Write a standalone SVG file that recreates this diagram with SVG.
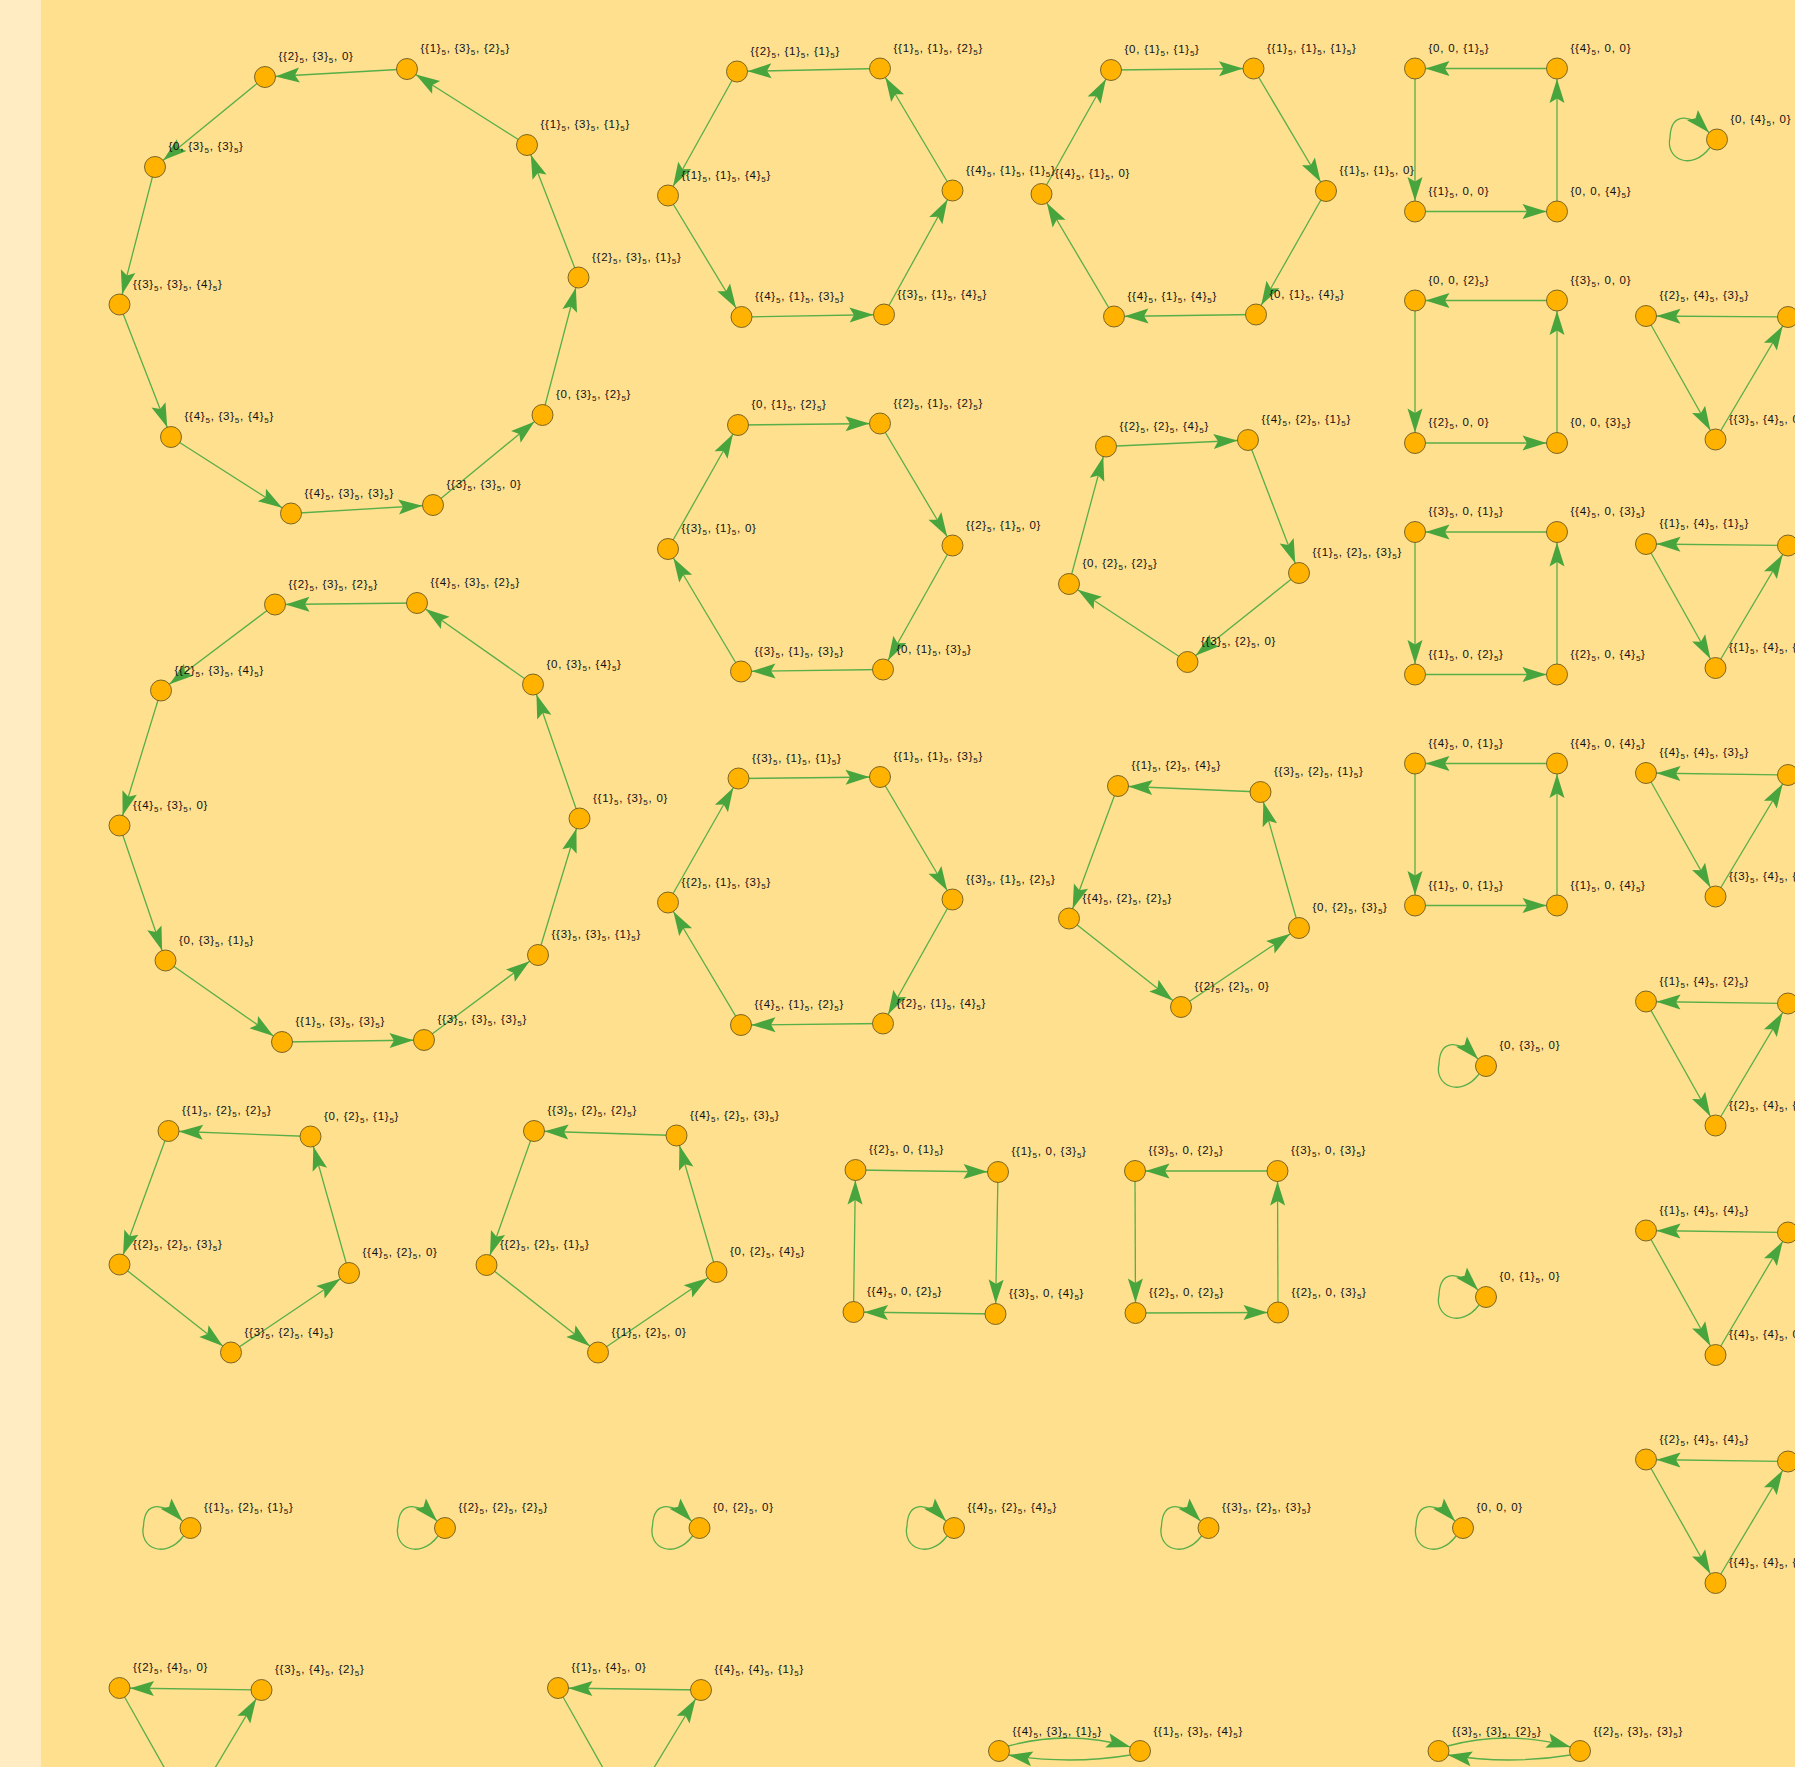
<svg xmlns="http://www.w3.org/2000/svg" width="1795" height="1767" viewBox="0 0 1795 1767">
<style>
.e{stroke:#58AE48;stroke-width:1.3;fill:none;marker-end:url(#ah)}
.c{stroke:#58AE48;stroke-width:1.3;fill:none;marker-end:url(#a0)}
.n{fill:#FFB300;stroke:#6E5A1E;stroke-width:0.9}
text{font-family:"Liberation Sans",Arial,sans-serif;font-size:11.5px;fill:#111;letter-spacing:0.75px}
.s{font-size:8px;baseline-shift:-3px}
</style>
<defs>
<marker id="ah" markerUnits="userSpaceOnUse" markerWidth="40" markerHeight="20" viewBox="-38 -10 40 20" refX="0" refY="0" orient="auto" overflow="visible"><path d="M-10.5,0 L-34.5,-7.5 L-30,0 L-34.5,7.5 Z" fill="#48A43D"/></marker>
<marker id="a0" markerUnits="userSpaceOnUse" markerWidth="30" markerHeight="20" viewBox="-28 -10 30 20" refX="0" refY="0" orient="auto" overflow="visible"><path d="M0,0 L-24,-7.5 L-19.5,0 L-24,7.5 Z" fill="#48A43D"/></marker>
</defs>
<rect x="0" y="0" width="1795" height="1767" fill="#FEE08F"/>
<rect x="0" y="0" width="41" height="1767" fill="#FFECC2"/>
<g id="edges">
<line class="e" x1="407" y1="69" x2="265" y2="77"/>
<line class="e" x1="265" y1="77" x2="155" y2="167"/>
<line class="e" x1="155" y1="167" x2="119.5" y2="304.5"/>
<line class="e" x1="119.5" y1="304.5" x2="171" y2="437"/>
<line class="e" x1="171" y1="437" x2="291" y2="513.5"/>
<line class="e" x1="291" y1="513.5" x2="433" y2="505"/>
<line class="e" x1="433" y1="505" x2="542.5" y2="415"/>
<line class="e" x1="542.5" y1="415" x2="578.5" y2="277.5"/>
<line class="e" x1="578.5" y1="277.5" x2="527" y2="145"/>
<line class="e" x1="527" y1="145" x2="407" y2="69"/>
<line class="e" x1="880" y1="68.5" x2="737" y2="71.5"/>
<line class="e" x1="737" y1="71.5" x2="668" y2="195.5"/>
<line class="e" x1="668" y1="195.5" x2="741.5" y2="317"/>
<line class="e" x1="741.5" y1="317" x2="884" y2="314.5"/>
<line class="e" x1="884" y1="314.5" x2="952.5" y2="190.5"/>
<line class="e" x1="952.5" y1="190.5" x2="880" y2="68.5"/>
<line class="e" x1="1041.5" y1="194" x2="1111" y2="70"/>
<line class="e" x1="1111" y1="70" x2="1253.5" y2="68.5"/>
<line class="e" x1="1253.5" y1="68.5" x2="1326" y2="191"/>
<line class="e" x1="1326" y1="191" x2="1256" y2="314.5"/>
<line class="e" x1="1256" y1="314.5" x2="1114" y2="316.5"/>
<line class="e" x1="1114" y1="316.5" x2="1041.5" y2="194"/>
<line class="e" x1="1557" y1="68.5" x2="1415" y2="68.5"/>
<line class="e" x1="1415" y1="68.5" x2="1415" y2="211.5"/>
<line class="e" x1="1415" y1="211.5" x2="1557" y2="211.5"/>
<line class="e" x1="1557" y1="211.5" x2="1557" y2="68.5"/>
<line class="e" x1="1557" y1="300.5" x2="1415" y2="300.5"/>
<line class="e" x1="1415" y1="300.5" x2="1415" y2="443"/>
<line class="e" x1="1415" y1="443" x2="1557" y2="443"/>
<line class="e" x1="1557" y1="443" x2="1557" y2="300.5"/>
<line class="e" x1="1788" y1="317" x2="1646" y2="316"/>
<line class="e" x1="1646" y1="316" x2="1715.5" y2="439.5"/>
<line class="e" x1="1715.5" y1="439.5" x2="1788" y2="317"/>
<line class="e" x1="668" y1="549" x2="738" y2="425"/>
<line class="e" x1="738" y1="425" x2="880" y2="423.5"/>
<line class="e" x1="880" y1="423.5" x2="952.5" y2="545.5"/>
<line class="e" x1="952.5" y1="545.5" x2="883" y2="669.5"/>
<line class="e" x1="883" y1="669.5" x2="741" y2="671.5"/>
<line class="e" x1="741" y1="671.5" x2="668" y2="549"/>
<line class="e" x1="1187.5" y1="662" x2="1069" y2="584"/>
<line class="e" x1="1069" y1="584" x2="1106" y2="446.5"/>
<line class="e" x1="1106" y1="446.5" x2="1248" y2="440"/>
<line class="e" x1="1248" y1="440" x2="1299" y2="573"/>
<line class="e" x1="1299" y1="573" x2="1187.5" y2="662"/>
<line class="e" x1="1557" y1="532" x2="1415" y2="532"/>
<line class="e" x1="1415" y1="532" x2="1415" y2="674.5"/>
<line class="e" x1="1415" y1="674.5" x2="1557" y2="674.5"/>
<line class="e" x1="1557" y1="674.5" x2="1557" y2="532"/>
<line class="e" x1="1788" y1="545.5" x2="1646" y2="544"/>
<line class="e" x1="1646" y1="544" x2="1715.5" y2="668"/>
<line class="e" x1="1715.5" y1="668" x2="1788" y2="545.5"/>
<line class="e" x1="417" y1="603" x2="275" y2="604.5"/>
<line class="e" x1="275" y1="604.5" x2="161" y2="690.5"/>
<line class="e" x1="161" y1="690.5" x2="119.5" y2="825.5"/>
<line class="e" x1="119.5" y1="825.5" x2="165.5" y2="960.5"/>
<line class="e" x1="165.5" y1="960.5" x2="282" y2="1042"/>
<line class="e" x1="282" y1="1042" x2="424" y2="1040"/>
<line class="e" x1="424" y1="1040" x2="538" y2="955"/>
<line class="e" x1="538" y1="955" x2="579.5" y2="818.5"/>
<line class="e" x1="579.5" y1="818.5" x2="533" y2="684.5"/>
<line class="e" x1="533" y1="684.5" x2="417" y2="603"/>
<line class="e" x1="668" y1="902.5" x2="738.5" y2="778.5"/>
<line class="e" x1="738.5" y1="778.5" x2="880" y2="777"/>
<line class="e" x1="880" y1="777" x2="952.5" y2="899.5"/>
<line class="e" x1="952.5" y1="899.5" x2="883" y2="1023.5"/>
<line class="e" x1="883" y1="1023.5" x2="741" y2="1025"/>
<line class="e" x1="741" y1="1025" x2="668" y2="902.5"/>
<line class="e" x1="1260.5" y1="792" x2="1118" y2="786"/>
<line class="e" x1="1118" y1="786" x2="1069" y2="918.5"/>
<line class="e" x1="1069" y1="918.5" x2="1181" y2="1007"/>
<line class="e" x1="1181" y1="1007" x2="1299" y2="928"/>
<line class="e" x1="1299" y1="928" x2="1260.5" y2="792"/>
<line class="e" x1="1557" y1="763.5" x2="1415" y2="763.5"/>
<line class="e" x1="1415" y1="763.5" x2="1415" y2="905.5"/>
<line class="e" x1="1415" y1="905.5" x2="1557" y2="905.5"/>
<line class="e" x1="1557" y1="905.5" x2="1557" y2="763.5"/>
<line class="e" x1="1788" y1="775" x2="1646" y2="773"/>
<line class="e" x1="1646" y1="773" x2="1715.5" y2="896.5"/>
<line class="e" x1="1715.5" y1="896.5" x2="1788" y2="775"/>
<line class="e" x1="1788" y1="1003.5" x2="1646" y2="1001.5"/>
<line class="e" x1="1646" y1="1001.5" x2="1715.5" y2="1125.5"/>
<line class="e" x1="1715.5" y1="1125.5" x2="1788" y2="1003.5"/>
<line class="e" x1="310.5" y1="1136.5" x2="168.5" y2="1131"/>
<line class="e" x1="168.5" y1="1131" x2="119.5" y2="1264.5"/>
<line class="e" x1="119.5" y1="1264.5" x2="231" y2="1352.5"/>
<line class="e" x1="231" y1="1352.5" x2="349" y2="1273"/>
<line class="e" x1="349" y1="1273" x2="310.5" y2="1136.5"/>
<line class="e" x1="676.5" y1="1135.5" x2="534" y2="1131"/>
<line class="e" x1="534" y1="1131" x2="486.5" y2="1265"/>
<line class="e" x1="486.5" y1="1265" x2="598" y2="1352.5"/>
<line class="e" x1="598" y1="1352.5" x2="716.5" y2="1272"/>
<line class="e" x1="716.5" y1="1272" x2="676.5" y2="1135.5"/>
<line class="e" x1="855.5" y1="1170" x2="998" y2="1172"/>
<line class="e" x1="998" y1="1172" x2="995.5" y2="1314"/>
<line class="e" x1="995.5" y1="1314" x2="853.5" y2="1312"/>
<line class="e" x1="853.5" y1="1312" x2="855.5" y2="1170"/>
<line class="e" x1="1277.5" y1="1171" x2="1135" y2="1171"/>
<line class="e" x1="1135" y1="1171" x2="1135.5" y2="1313"/>
<line class="e" x1="1135.5" y1="1313" x2="1278" y2="1312.5"/>
<line class="e" x1="1278" y1="1312.5" x2="1277.5" y2="1171"/>
<line class="e" x1="1788" y1="1232.5" x2="1646" y2="1230.5"/>
<line class="e" x1="1646" y1="1230.5" x2="1715.5" y2="1355"/>
<line class="e" x1="1715.5" y1="1355" x2="1788" y2="1232.5"/>
<line class="e" x1="1788" y1="1461.5" x2="1646" y2="1459.5"/>
<line class="e" x1="1646" y1="1459.5" x2="1715.5" y2="1583"/>
<line class="e" x1="1715.5" y1="1583" x2="1788" y2="1461.5"/>
<line class="e" x1="261.5" y1="1690" x2="119.5" y2="1688"/>
<line class="e" x1="119.5" y1="1688" x2="189" y2="1811.5"/>
<line class="e" x1="189" y1="1811.5" x2="261.5" y2="1690"/>
<line class="e" x1="701" y1="1690" x2="558" y2="1688"/>
<line class="e" x1="558" y1="1688" x2="627.5" y2="1811.5"/>
<line class="e" x1="627.5" y1="1811.5" x2="701" y2="1690"/>
<path class="c" d="M1710,147.5 C1692,171.5 1665,159.5 1670,137.5 C1671,111.5 1691,113.5 1709,132.5"/>
<path class="c" d="M1479,1074 C1461,1098 1434,1086 1439,1064 C1440,1038 1460,1040 1478,1059"/>
<path class="c" d="M1479,1305 C1461,1329 1434,1317 1439,1295 C1440,1269 1460,1271 1478,1290"/>
<path class="c" d="M183.5,1536 C165.5,1560 138.5,1548 143.5,1526 C144.5,1500 164.5,1502 182.5,1521"/>
<path class="c" d="M438,1536 C420,1560 393,1548 398,1526 C399,1500 419,1502 437,1521"/>
<path class="c" d="M692.5,1536 C674.5,1560 647.5,1548 652.5,1526 C653.5,1500 673.5,1502 691.5,1521"/>
<path class="c" d="M947,1536 C929,1560 902,1548 907,1526 C908,1500 928,1502 946,1521"/>
<path class="c" d="M1201.5,1536 C1183.5,1560 1156.5,1548 1161.5,1526 C1162.5,1500 1182.5,1502 1200.5,1521"/>
<path class="c" d="M1456,1536 C1438,1560 1411,1548 1416,1526 C1417,1500 1437,1502 1455,1521"/>
<path class="c" d="M1008,1746 Q1069.5,1729.5 1130.5,1747"/>
<path class="c" d="M1130.5,1755 Q1069.5,1765 1008.5,1755"/>
<path class="c" d="M1447.5,1746 Q1509,1729.5 1570.5,1747"/>
<path class="c" d="M1570.5,1755 Q1509,1765 1448,1755"/>
</g>
<g id="nodes">
<g id="n230"><circle class="n" cx="265" cy="77" r="10.5"/><text x="278.5" y="60">{{2}<tspan class="s">5</tspan>, {3}<tspan class="s">5</tspan>, 0}</text></g>
<g id="n132"><circle class="n" cx="407" cy="69" r="10.5"/><text x="420.5" y="52">{{1}<tspan class="s">5</tspan>, {3}<tspan class="s">5</tspan>, {2}<tspan class="s">5</tspan>}</text></g>
<g id="n131"><circle class="n" cx="527" cy="145" r="10.5"/><text x="540.5" y="128">{{1}<tspan class="s">5</tspan>, {3}<tspan class="s">5</tspan>, {1}<tspan class="s">5</tspan>}</text></g>
<g id="n231"><circle class="n" cx="578.5" cy="277.5" r="10.5"/><text x="592" y="260.5">{{2}<tspan class="s">5</tspan>, {3}<tspan class="s">5</tspan>, {1}<tspan class="s">5</tspan>}</text></g>
<g id="n032"><circle class="n" cx="542.5" cy="415" r="10.5"/><text x="556" y="398">{0, {3}<tspan class="s">5</tspan>, {2}<tspan class="s">5</tspan>}</text></g>
<g id="n330"><circle class="n" cx="433" cy="505" r="10.5"/><text x="446.5" y="488">{{3}<tspan class="s">5</tspan>, {3}<tspan class="s">5</tspan>, 0}</text></g>
<g id="n433"><circle class="n" cx="291" cy="513.5" r="10.5"/><text x="304.5" y="496.5">{{4}<tspan class="s">5</tspan>, {3}<tspan class="s">5</tspan>, {3}<tspan class="s">5</tspan>}</text></g>
<g id="n434"><circle class="n" cx="171" cy="437" r="10.5"/><text x="184.5" y="420">{{4}<tspan class="s">5</tspan>, {3}<tspan class="s">5</tspan>, {4}<tspan class="s">5</tspan>}</text></g>
<g id="n334"><circle class="n" cx="119.5" cy="304.5" r="10.5"/><text x="133" y="287.5">{{3}<tspan class="s">5</tspan>, {3}<tspan class="s">5</tspan>, {4}<tspan class="s">5</tspan>}</text></g>
<g id="n033"><circle class="n" cx="155" cy="167" r="10.5"/><text x="168.5" y="150">{0, {3}<tspan class="s">5</tspan>, {3}<tspan class="s">5</tspan>}</text></g>
<g id="n211"><circle class="n" cx="737" cy="71.5" r="10.5"/><text x="750.5" y="54.5">{{2}<tspan class="s">5</tspan>, {1}<tspan class="s">5</tspan>, {1}<tspan class="s">5</tspan>}</text></g>
<g id="n112"><circle class="n" cx="880" cy="68.5" r="10.5"/><text x="893.5" y="51.5">{{1}<tspan class="s">5</tspan>, {1}<tspan class="s">5</tspan>, {2}<tspan class="s">5</tspan>}</text></g>
<g id="n411"><circle class="n" cx="952.5" cy="190.5" r="10.5"/><text x="966" y="173.5">{{4}<tspan class="s">5</tspan>, {1}<tspan class="s">5</tspan>, {1}<tspan class="s">5</tspan>}</text></g>
<g id="n314"><circle class="n" cx="884" cy="314.5" r="10.5"/><text x="897.5" y="297.5">{{3}<tspan class="s">5</tspan>, {1}<tspan class="s">5</tspan>, {4}<tspan class="s">5</tspan>}</text></g>
<g id="n413"><circle class="n" cx="741.5" cy="317" r="10.5"/><text x="755" y="300">{{4}<tspan class="s">5</tspan>, {1}<tspan class="s">5</tspan>, {3}<tspan class="s">5</tspan>}</text></g>
<g id="n114"><circle class="n" cx="668" cy="195.5" r="10.5"/><text x="681.5" y="178.5">{{1}<tspan class="s">5</tspan>, {1}<tspan class="s">5</tspan>, {4}<tspan class="s">5</tspan>}</text></g>
<g id="n410"><circle class="n" cx="1041.5" cy="194" r="10.5"/><text x="1055" y="177">{{4}<tspan class="s">5</tspan>, {1}<tspan class="s">5</tspan>, 0}</text></g>
<g id="n011"><circle class="n" cx="1111" cy="70" r="10.5"/><text x="1124.5" y="53">{0, {1}<tspan class="s">5</tspan>, {1}<tspan class="s">5</tspan>}</text></g>
<g id="n111"><circle class="n" cx="1253.5" cy="68.5" r="10.5"/><text x="1267" y="51.5">{{1}<tspan class="s">5</tspan>, {1}<tspan class="s">5</tspan>, {1}<tspan class="s">5</tspan>}</text></g>
<g id="n110"><circle class="n" cx="1326" cy="191" r="10.5"/><text x="1339.5" y="174">{{1}<tspan class="s">5</tspan>, {1}<tspan class="s">5</tspan>, 0}</text></g>
<g id="n014"><circle class="n" cx="1256" cy="314.5" r="10.5"/><text x="1269.5" y="297.5">{0, {1}<tspan class="s">5</tspan>, {4}<tspan class="s">5</tspan>}</text></g>
<g id="n414"><circle class="n" cx="1114" cy="316.5" r="10.5"/><text x="1127.5" y="299.5">{{4}<tspan class="s">5</tspan>, {1}<tspan class="s">5</tspan>, {4}<tspan class="s">5</tspan>}</text></g>
<g id="n001"><circle class="n" cx="1415" cy="68.5" r="10.5"/><text x="1428.5" y="51.5">{0, 0, {1}<tspan class="s">5</tspan>}</text></g>
<g id="n400"><circle class="n" cx="1557" cy="68.5" r="10.5"/><text x="1570.5" y="51.5">{{4}<tspan class="s">5</tspan>, 0, 0}</text></g>
<g id="n100"><circle class="n" cx="1415" cy="211.5" r="10.5"/><text x="1428.5" y="194.5">{{1}<tspan class="s">5</tspan>, 0, 0}</text></g>
<g id="n004"><circle class="n" cx="1557" cy="211.5" r="10.5"/><text x="1570.5" y="194.5">{0, 0, {4}<tspan class="s">5</tspan>}</text></g>
<g id="n040"><circle class="n" cx="1717" cy="139.5" r="10.5"/><text x="1730.5" y="122.5">{0, {4}<tspan class="s">5</tspan>, 0}</text></g>
<g id="n002"><circle class="n" cx="1415" cy="300.5" r="10.5"/><text x="1428.5" y="283.5">{0, 0, {2}<tspan class="s">5</tspan>}</text></g>
<g id="n300"><circle class="n" cx="1557" cy="300.5" r="10.5"/><text x="1570.5" y="283.5">{{3}<tspan class="s">5</tspan>, 0, 0}</text></g>
<g id="n200"><circle class="n" cx="1415" cy="443" r="10.5"/><text x="1428.5" y="426">{{2}<tspan class="s">5</tspan>, 0, 0}</text></g>
<g id="n003"><circle class="n" cx="1557" cy="443" r="10.5"/><text x="1570.5" y="426">{0, 0, {3}<tspan class="s">5</tspan>}</text></g>
<g id="n243"><circle class="n" cx="1646" cy="316" r="10.5"/><text x="1659.5" y="299">{{2}<tspan class="s">5</tspan>, {4}<tspan class="s">5</tspan>, {3}<tspan class="s">5</tspan>}</text></g>
<g id="n042"><circle class="n" cx="1788" cy="317" r="10.5"/></g>
<g id="n340"><circle class="n" cx="1715.5" cy="439.5" r="10.5"/><text x="1729" y="422.5">{{3}<tspan class="s">5</tspan>, {4}<tspan class="s">5</tspan>, 0}</text></g>
<g id="n012"><circle class="n" cx="738" cy="425" r="10.5"/><text x="751.5" y="408">{0, {1}<tspan class="s">5</tspan>, {2}<tspan class="s">5</tspan>}</text></g>
<g id="n212"><circle class="n" cx="880" cy="423.5" r="10.5"/><text x="893.5" y="406.5">{{2}<tspan class="s">5</tspan>, {1}<tspan class="s">5</tspan>, {2}<tspan class="s">5</tspan>}</text></g>
<g id="n210"><circle class="n" cx="952.5" cy="545.5" r="10.5"/><text x="966" y="528.5">{{2}<tspan class="s">5</tspan>, {1}<tspan class="s">5</tspan>, 0}</text></g>
<g id="n013"><circle class="n" cx="883" cy="669.5" r="10.5"/><text x="896.5" y="652.5">{0, {1}<tspan class="s">5</tspan>, {3}<tspan class="s">5</tspan>}</text></g>
<g id="n313"><circle class="n" cx="741" cy="671.5" r="10.5"/><text x="754.5" y="654.5">{{3}<tspan class="s">5</tspan>, {1}<tspan class="s">5</tspan>, {3}<tspan class="s">5</tspan>}</text></g>
<g id="n310"><circle class="n" cx="668" cy="549" r="10.5"/><text x="681.5" y="532">{{3}<tspan class="s">5</tspan>, {1}<tspan class="s">5</tspan>, 0}</text></g>
<g id="n224"><circle class="n" cx="1106" cy="446.5" r="10.5"/><text x="1119.5" y="429.5">{{2}<tspan class="s">5</tspan>, {2}<tspan class="s">5</tspan>, {4}<tspan class="s">5</tspan>}</text></g>
<g id="n421"><circle class="n" cx="1248" cy="440" r="10.5"/><text x="1261.5" y="423">{{4}<tspan class="s">5</tspan>, {2}<tspan class="s">5</tspan>, {1}<tspan class="s">5</tspan>}</text></g>
<g id="n123"><circle class="n" cx="1299" cy="573" r="10.5"/><text x="1312.5" y="556">{{1}<tspan class="s">5</tspan>, {2}<tspan class="s">5</tspan>, {3}<tspan class="s">5</tspan>}</text></g>
<g id="n320"><circle class="n" cx="1187.5" cy="662" r="10.5"/><text x="1201" y="645">{{3}<tspan class="s">5</tspan>, {2}<tspan class="s">5</tspan>, 0}</text></g>
<g id="n022"><circle class="n" cx="1069" cy="584" r="10.5"/><text x="1082.5" y="567">{0, {2}<tspan class="s">5</tspan>, {2}<tspan class="s">5</tspan>}</text></g>
<g id="n301"><circle class="n" cx="1415" cy="532" r="10.5"/><text x="1428.5" y="515">{{3}<tspan class="s">5</tspan>, 0, {1}<tspan class="s">5</tspan>}</text></g>
<g id="n403"><circle class="n" cx="1557" cy="532" r="10.5"/><text x="1570.5" y="515">{{4}<tspan class="s">5</tspan>, 0, {3}<tspan class="s">5</tspan>}</text></g>
<g id="n102"><circle class="n" cx="1415" cy="674.5" r="10.5"/><text x="1428.5" y="657.5">{{1}<tspan class="s">5</tspan>, 0, {2}<tspan class="s">5</tspan>}</text></g>
<g id="n204"><circle class="n" cx="1557" cy="674.5" r="10.5"/><text x="1570.5" y="657.5">{{2}<tspan class="s">5</tspan>, 0, {4}<tspan class="s">5</tspan>}</text></g>
<g id="n141"><circle class="n" cx="1646" cy="544" r="10.5"/><text x="1659.5" y="527">{{1}<tspan class="s">5</tspan>, {4}<tspan class="s">5</tspan>, {1}<tspan class="s">5</tspan>}</text></g>
<g id="n341"><circle class="n" cx="1788" cy="545.5" r="10.5"/></g>
<g id="n143"><circle class="n" cx="1715.5" cy="668" r="10.5"/><text x="1729" y="651">{{1}<tspan class="s">5</tspan>, {4}<tspan class="s">5</tspan>, {3}<tspan class="s">5</tspan>}</text></g>
<g id="n232"><circle class="n" cx="275" cy="604.5" r="10.5"/><text x="288.5" y="587.5">{{2}<tspan class="s">5</tspan>, {3}<tspan class="s">5</tspan>, {2}<tspan class="s">5</tspan>}</text></g>
<g id="n432"><circle class="n" cx="417" cy="603" r="10.5"/><text x="430.5" y="586">{{4}<tspan class="s">5</tspan>, {3}<tspan class="s">5</tspan>, {2}<tspan class="s">5</tspan>}</text></g>
<g id="n034"><circle class="n" cx="533" cy="684.5" r="10.5"/><text x="546.5" y="667.5">{0, {3}<tspan class="s">5</tspan>, {4}<tspan class="s">5</tspan>}</text></g>
<g id="n130"><circle class="n" cx="579.5" cy="818.5" r="10.5"/><text x="593" y="801.5">{{1}<tspan class="s">5</tspan>, {3}<tspan class="s">5</tspan>, 0}</text></g>
<g id="n331"><circle class="n" cx="538" cy="955" r="10.5"/><text x="551.5" y="938">{{3}<tspan class="s">5</tspan>, {3}<tspan class="s">5</tspan>, {1}<tspan class="s">5</tspan>}</text></g>
<g id="n333"><circle class="n" cx="424" cy="1040" r="10.5"/><text x="437.5" y="1023">{{3}<tspan class="s">5</tspan>, {3}<tspan class="s">5</tspan>, {3}<tspan class="s">5</tspan>}</text></g>
<g id="n133"><circle class="n" cx="282" cy="1042" r="10.5"/><text x="295.5" y="1025">{{1}<tspan class="s">5</tspan>, {3}<tspan class="s">5</tspan>, {3}<tspan class="s">5</tspan>}</text></g>
<g id="n031"><circle class="n" cx="165.5" cy="960.5" r="10.5"/><text x="179" y="943.5">{0, {3}<tspan class="s">5</tspan>, {1}<tspan class="s">5</tspan>}</text></g>
<g id="n430"><circle class="n" cx="119.5" cy="825.5" r="10.5"/><text x="133" y="808.5">{{4}<tspan class="s">5</tspan>, {3}<tspan class="s">5</tspan>, 0}</text></g>
<g id="n234"><circle class="n" cx="161" cy="690.5" r="10.5"/><text x="174.5" y="673.5">{{2}<tspan class="s">5</tspan>, {3}<tspan class="s">5</tspan>, {4}<tspan class="s">5</tspan>}</text></g>
<g id="n311"><circle class="n" cx="738.5" cy="778.5" r="10.5"/><text x="752" y="761.5">{{3}<tspan class="s">5</tspan>, {1}<tspan class="s">5</tspan>, {1}<tspan class="s">5</tspan>}</text></g>
<g id="n113"><circle class="n" cx="880" cy="777" r="10.5"/><text x="893.5" y="760">{{1}<tspan class="s">5</tspan>, {1}<tspan class="s">5</tspan>, {3}<tspan class="s">5</tspan>}</text></g>
<g id="n312"><circle class="n" cx="952.5" cy="899.5" r="10.5"/><text x="966" y="882.5">{{3}<tspan class="s">5</tspan>, {1}<tspan class="s">5</tspan>, {2}<tspan class="s">5</tspan>}</text></g>
<g id="n214"><circle class="n" cx="883" cy="1023.5" r="10.5"/><text x="896.5" y="1006.5">{{2}<tspan class="s">5</tspan>, {1}<tspan class="s">5</tspan>, {4}<tspan class="s">5</tspan>}</text></g>
<g id="n412"><circle class="n" cx="741" cy="1025" r="10.5"/><text x="754.5" y="1008">{{4}<tspan class="s">5</tspan>, {1}<tspan class="s">5</tspan>, {2}<tspan class="s">5</tspan>}</text></g>
<g id="n213"><circle class="n" cx="668" cy="902.5" r="10.5"/><text x="681.5" y="885.5">{{2}<tspan class="s">5</tspan>, {1}<tspan class="s">5</tspan>, {3}<tspan class="s">5</tspan>}</text></g>
<g id="n124"><circle class="n" cx="1118" cy="786" r="10.5"/><text x="1131.5" y="769">{{1}<tspan class="s">5</tspan>, {2}<tspan class="s">5</tspan>, {4}<tspan class="s">5</tspan>}</text></g>
<g id="n321"><circle class="n" cx="1260.5" cy="792" r="10.5"/><text x="1274" y="775">{{3}<tspan class="s">5</tspan>, {2}<tspan class="s">5</tspan>, {1}<tspan class="s">5</tspan>}</text></g>
<g id="n023"><circle class="n" cx="1299" cy="928" r="10.5"/><text x="1312.5" y="911">{0, {2}<tspan class="s">5</tspan>, {3}<tspan class="s">5</tspan>}</text></g>
<g id="n220"><circle class="n" cx="1181" cy="1007" r="10.5"/><text x="1194.5" y="990">{{2}<tspan class="s">5</tspan>, {2}<tspan class="s">5</tspan>, 0}</text></g>
<g id="n422"><circle class="n" cx="1069" cy="918.5" r="10.5"/><text x="1082.5" y="901.5">{{4}<tspan class="s">5</tspan>, {2}<tspan class="s">5</tspan>, {2}<tspan class="s">5</tspan>}</text></g>
<g id="n401"><circle class="n" cx="1415" cy="763.5" r="10.5"/><text x="1428.5" y="746.5">{{4}<tspan class="s">5</tspan>, 0, {1}<tspan class="s">5</tspan>}</text></g>
<g id="n404"><circle class="n" cx="1557" cy="763.5" r="10.5"/><text x="1570.5" y="746.5">{{4}<tspan class="s">5</tspan>, 0, {4}<tspan class="s">5</tspan>}</text></g>
<g id="n101"><circle class="n" cx="1415" cy="905.5" r="10.5"/><text x="1428.5" y="888.5">{{1}<tspan class="s">5</tspan>, 0, {1}<tspan class="s">5</tspan>}</text></g>
<g id="n104"><circle class="n" cx="1557" cy="905.5" r="10.5"/><text x="1570.5" y="888.5">{{1}<tspan class="s">5</tspan>, 0, {4}<tspan class="s">5</tspan>}</text></g>
<g id="n443"><circle class="n" cx="1646" cy="773" r="10.5"/><text x="1659.5" y="756">{{4}<tspan class="s">5</tspan>, {4}<tspan class="s">5</tspan>, {3}<tspan class="s">5</tspan>}</text></g>
<g id="n344"><circle class="n" cx="1788" cy="775" r="10.5"/></g>
<g id="n343"><circle class="n" cx="1715.5" cy="896.5" r="10.5"/><text x="1729" y="879.5">{{3}<tspan class="s">5</tspan>, {4}<tspan class="s">5</tspan>, {3}<tspan class="s">5</tspan>}</text></g>
<g id="n142"><circle class="n" cx="1646" cy="1001.5" r="10.5"/><text x="1659.5" y="984.5">{{1}<tspan class="s">5</tspan>, {4}<tspan class="s">5</tspan>, {2}<tspan class="s">5</tspan>}</text></g>
<g id="n241"><circle class="n" cx="1788" cy="1003.5" r="10.5"/></g>
<g id="n242"><circle class="n" cx="1715.5" cy="1125.5" r="10.5"/><text x="1729" y="1108.5">{{2}<tspan class="s">5</tspan>, {4}<tspan class="s">5</tspan>, {2}<tspan class="s">5</tspan>}</text></g>
<g id="n030"><circle class="n" cx="1486" cy="1066" r="10.5"/><text x="1499.5" y="1049">{0, {3}<tspan class="s">5</tspan>, 0}</text></g>
<g id="n122"><circle class="n" cx="168.5" cy="1131" r="10.5"/><text x="182" y="1114">{{1}<tspan class="s">5</tspan>, {2}<tspan class="s">5</tspan>, {2}<tspan class="s">5</tspan>}</text></g>
<g id="n021"><circle class="n" cx="310.5" cy="1136.5" r="10.5"/><text x="324" y="1119.5">{0, {2}<tspan class="s">5</tspan>, {1}<tspan class="s">5</tspan>}</text></g>
<g id="n420"><circle class="n" cx="349" cy="1273" r="10.5"/><text x="362.5" y="1256">{{4}<tspan class="s">5</tspan>, {2}<tspan class="s">5</tspan>, 0}</text></g>
<g id="n324"><circle class="n" cx="231" cy="1352.5" r="10.5"/><text x="244.5" y="1335.5">{{3}<tspan class="s">5</tspan>, {2}<tspan class="s">5</tspan>, {4}<tspan class="s">5</tspan>}</text></g>
<g id="n223"><circle class="n" cx="119.5" cy="1264.5" r="10.5"/><text x="133" y="1247.5">{{2}<tspan class="s">5</tspan>, {2}<tspan class="s">5</tspan>, {3}<tspan class="s">5</tspan>}</text></g>
<g id="n322"><circle class="n" cx="534" cy="1131" r="10.5"/><text x="547.5" y="1114">{{3}<tspan class="s">5</tspan>, {2}<tspan class="s">5</tspan>, {2}<tspan class="s">5</tspan>}</text></g>
<g id="n423"><circle class="n" cx="676.5" cy="1135.5" r="10.5"/><text x="690" y="1118.5">{{4}<tspan class="s">5</tspan>, {2}<tspan class="s">5</tspan>, {3}<tspan class="s">5</tspan>}</text></g>
<g id="n024"><circle class="n" cx="716.5" cy="1272" r="10.5"/><text x="730" y="1255">{0, {2}<tspan class="s">5</tspan>, {4}<tspan class="s">5</tspan>}</text></g>
<g id="n120"><circle class="n" cx="598" cy="1352.5" r="10.5"/><text x="611.5" y="1335.5">{{1}<tspan class="s">5</tspan>, {2}<tspan class="s">5</tspan>, 0}</text></g>
<g id="n221"><circle class="n" cx="486.5" cy="1265" r="10.5"/><text x="500" y="1248">{{2}<tspan class="s">5</tspan>, {2}<tspan class="s">5</tspan>, {1}<tspan class="s">5</tspan>}</text></g>
<g id="n201"><circle class="n" cx="855.5" cy="1170" r="10.5"/><text x="869" y="1153">{{2}<tspan class="s">5</tspan>, 0, {1}<tspan class="s">5</tspan>}</text></g>
<g id="n103"><circle class="n" cx="998" cy="1172" r="10.5"/><text x="1011.5" y="1155">{{1}<tspan class="s">5</tspan>, 0, {3}<tspan class="s">5</tspan>}</text></g>
<g id="n304"><circle class="n" cx="995.5" cy="1314" r="10.5"/><text x="1009" y="1297">{{3}<tspan class="s">5</tspan>, 0, {4}<tspan class="s">5</tspan>}</text></g>
<g id="n402"><circle class="n" cx="853.5" cy="1312" r="10.5"/><text x="867" y="1295">{{4}<tspan class="s">5</tspan>, 0, {2}<tspan class="s">5</tspan>}</text></g>
<g id="n302"><circle class="n" cx="1135" cy="1171" r="10.5"/><text x="1148.5" y="1154">{{3}<tspan class="s">5</tspan>, 0, {2}<tspan class="s">5</tspan>}</text></g>
<g id="n303"><circle class="n" cx="1277.5" cy="1171" r="10.5"/><text x="1291" y="1154">{{3}<tspan class="s">5</tspan>, 0, {3}<tspan class="s">5</tspan>}</text></g>
<g id="n202"><circle class="n" cx="1135.5" cy="1313" r="10.5"/><text x="1149" y="1296">{{2}<tspan class="s">5</tspan>, 0, {2}<tspan class="s">5</tspan>}</text></g>
<g id="n203"><circle class="n" cx="1278" cy="1312.5" r="10.5"/><text x="1291.5" y="1295.5">{{2}<tspan class="s">5</tspan>, 0, {3}<tspan class="s">5</tspan>}</text></g>
<g id="n010"><circle class="n" cx="1486" cy="1297" r="10.5"/><text x="1499.5" y="1280">{0, {1}<tspan class="s">5</tspan>, 0}</text></g>
<g id="n144"><circle class="n" cx="1646" cy="1230.5" r="10.5"/><text x="1659.5" y="1213.5">{{1}<tspan class="s">5</tspan>, {4}<tspan class="s">5</tspan>, {4}<tspan class="s">5</tspan>}</text></g>
<g id="n041"><circle class="n" cx="1788" cy="1232.5" r="10.5"/></g>
<g id="n440"><circle class="n" cx="1715.5" cy="1355" r="10.5"/><text x="1729" y="1338">{{4}<tspan class="s">5</tspan>, {4}<tspan class="s">5</tspan>, 0}</text></g>
<g id="n244"><circle class="n" cx="1646" cy="1459.5" r="10.5"/><text x="1659.5" y="1442.5">{{2}<tspan class="s">5</tspan>, {4}<tspan class="s">5</tspan>, {4}<tspan class="s">5</tspan>}</text></g>
<g id="n442"><circle class="n" cx="1788" cy="1461.5" r="10.5"/></g>
<g id="n444"><circle class="n" cx="1715.5" cy="1583" r="10.5"/><text x="1729" y="1566">{{4}<tspan class="s">5</tspan>, {4}<tspan class="s">5</tspan>, {4}<tspan class="s">5</tspan>}</text></g>
<g id="n121"><circle class="n" cx="190.5" cy="1528" r="10.5"/><text x="204" y="1511">{{1}<tspan class="s">5</tspan>, {2}<tspan class="s">5</tspan>, {1}<tspan class="s">5</tspan>}</text></g>
<g id="n222"><circle class="n" cx="445" cy="1528" r="10.5"/><text x="458.5" y="1511">{{2}<tspan class="s">5</tspan>, {2}<tspan class="s">5</tspan>, {2}<tspan class="s">5</tspan>}</text></g>
<g id="n020"><circle class="n" cx="699.5" cy="1528" r="10.5"/><text x="713" y="1511">{0, {2}<tspan class="s">5</tspan>, 0}</text></g>
<g id="n424"><circle class="n" cx="954" cy="1528" r="10.5"/><text x="967.5" y="1511">{{4}<tspan class="s">5</tspan>, {2}<tspan class="s">5</tspan>, {4}<tspan class="s">5</tspan>}</text></g>
<g id="n323"><circle class="n" cx="1208.5" cy="1528" r="10.5"/><text x="1222" y="1511">{{3}<tspan class="s">5</tspan>, {2}<tspan class="s">5</tspan>, {3}<tspan class="s">5</tspan>}</text></g>
<g id="n000"><circle class="n" cx="1463" cy="1528" r="10.5"/><text x="1476.5" y="1511">{0, 0, 0}</text></g>
<g id="n240"><circle class="n" cx="119.5" cy="1688" r="10.5"/><text x="133" y="1671">{{2}<tspan class="s">5</tspan>, {4}<tspan class="s">5</tspan>, 0}</text></g>
<g id="n342"><circle class="n" cx="261.5" cy="1690" r="10.5"/><text x="275" y="1673">{{3}<tspan class="s">5</tspan>, {4}<tspan class="s">5</tspan>, {2}<tspan class="s">5</tspan>}</text></g>
<g id="n140"><circle class="n" cx="558" cy="1688" r="10.5"/><text x="571.5" y="1671">{{1}<tspan class="s">5</tspan>, {4}<tspan class="s">5</tspan>, 0}</text></g>
<g id="n441"><circle class="n" cx="701" cy="1690" r="10.5"/><text x="714.5" y="1673">{{4}<tspan class="s">5</tspan>, {4}<tspan class="s">5</tspan>, {1}<tspan class="s">5</tspan>}</text></g>
<g id="n431"><circle class="n" cx="999" cy="1751" r="10.5"/><text x="1012.5" y="1735">{{4}<tspan class="s">5</tspan>, {3}<tspan class="s">5</tspan>, {1}<tspan class="s">5</tspan>}</text></g>
<g id="n134"><circle class="n" cx="1140" cy="1751" r="10.5"/><text x="1153.5" y="1735">{{1}<tspan class="s">5</tspan>, {3}<tspan class="s">5</tspan>, {4}<tspan class="s">5</tspan>}</text></g>
<g id="n332"><circle class="n" cx="1438.5" cy="1751" r="10.5"/><text x="1452" y="1735">{{3}<tspan class="s">5</tspan>, {3}<tspan class="s">5</tspan>, {2}<tspan class="s">5</tspan>}</text></g>
<g id="n233"><circle class="n" cx="1580" cy="1751" r="10.5"/><text x="1593.5" y="1735">{{2}<tspan class="s">5</tspan>, {3}<tspan class="s">5</tspan>, {3}<tspan class="s">5</tspan>}</text></g>
</g>
</svg>
